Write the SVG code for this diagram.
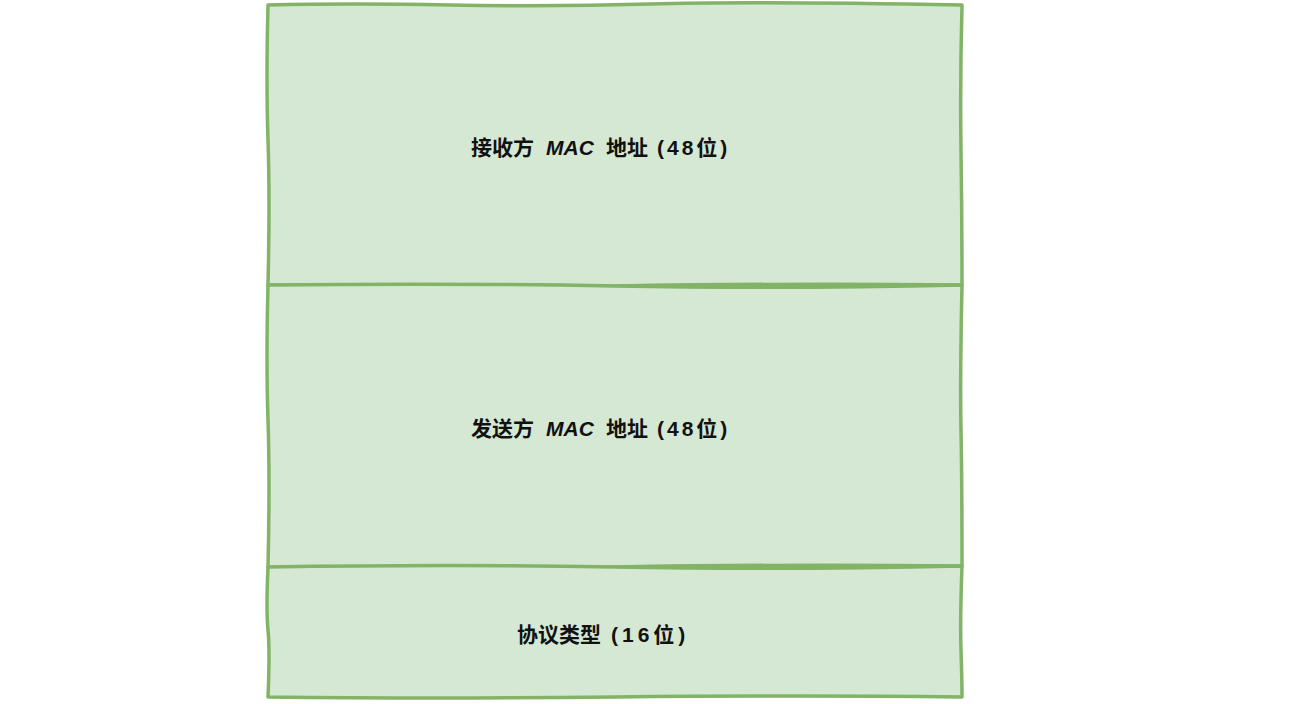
<svg xmlns="http://www.w3.org/2000/svg" width="1301" height="704" viewBox="0 0 1301 704">
<style>
.box{fill:#d5e8d4;stroke:#82b366;stroke-width:3.5;stroke-linejoin:round}
.lbl{font-family:"Liberation Sans","Noto Sans CJK SC",sans-serif;font-size:21px;font-weight:bold;fill:#111}
.it{font-style:italic}
.ls{letter-spacing:3px}
</style>
<rect width="1301" height="704" fill="#ffffff"/>
<g id="dst">
<path class="box" d="M268,5 Q350,3 450,5 T650,4 T962,5 Q960,80 961,150 T962,285 Q800,283 615,286 T268,285 Q270,200 268,140 T268,5 Z"/>
<text class="lbl" y="155"><tspan x="471">接收方</tspan><tspan class="it" x="546">MAC</tspan><tspan x="606">地址</tspan><tspan class="ls" x="657">(48位)</tspan></text>
</g>
<g id="src">
<path class="box" d="M268,285 Q450,283 615,286 T962,285 Q960,380 961,430 T962,566 Q800,564 615,567 T268,567 Q270,480 268,420 T268,285 Z"/>
<text class="lbl" y="436"><tspan x="471">发送方</tspan><tspan class="it" x="546">MAC</tspan><tspan x="606">地址</tspan><tspan class="ls" x="657">(48位)</tspan></text>
</g>
<g id="type">
<path class="box" d="M268,567 Q450,564 615,567 T962,566 Q960,620 961,650 T962,697 Q800,695 615,697 T268,697 Q270,650 268,630 T268,567 Z"/>
<text class="lbl" y="642"><tspan x="517">协议类型</tspan><tspan class="ls" x="611" style="letter-spacing:4px">(16位)</tspan></text>
</g>
<g id="connectors"/>
</svg>
